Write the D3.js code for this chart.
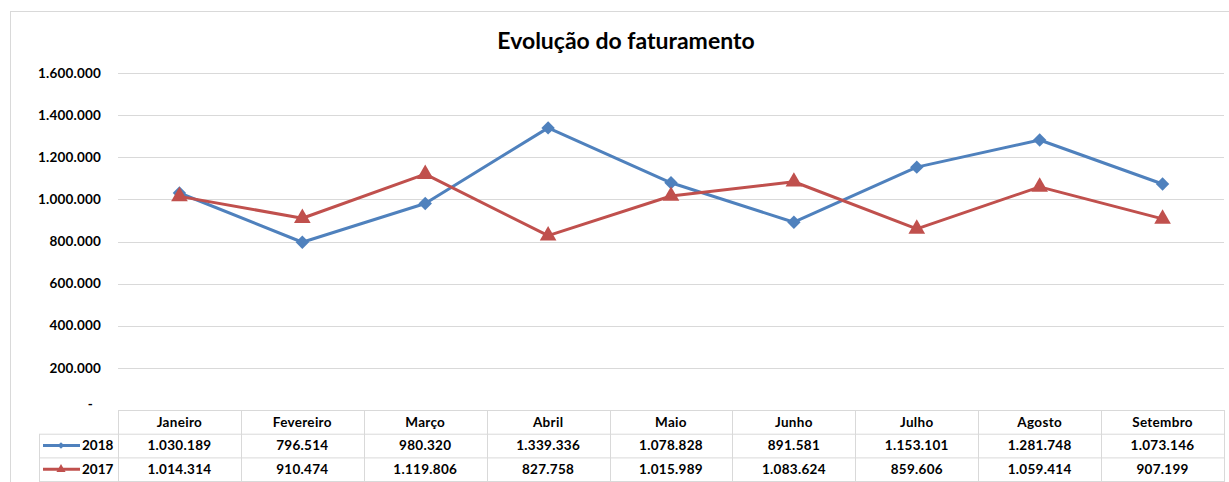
<!DOCTYPE html>
<html>
<head>
<meta charset="utf-8">
<script src="https://cdn.jsdelivr.net/npm/d3@7"></script>
<style>
  body { margin: 0; background: #fff; }
  svg { display: block; font-family: Lato, "Open Sans", sans-serif; }
</style>
</head>
<body>
<svg width="1229" height="482"></svg>
<script>
const months = ["Janeiro", "Fevereiro", "Março", "Abril", "Maio", "Junho", "Julho", "Agosto", "Setembro"];
const values2018 = [1030189, 796514, 980320, 1339336, 1078828, 891581, 1153101, 1281748, 1073146];
const values2017 = [1014314, 910474, 1119806, 827758, 1015989, 1083624, 859606, 1059414, 907199];
const yTicks = [0, 200000, 400000, 600000, 800000, 1000000, 1200000, 1400000, 1600000];

const series = [
  { name: "2018", values: values2018, color: "#4f81bd", marker: "diamond" },
  { name: "2017", values: values2017, color: "#c0504d", marker: "triangle" }
];

const fmt = v => d3.format(",")(v).replace(/,/g, ".");

const svg = d3.select("svg");
const plotLeft = 118, plotRight = 1224, plotTop = 73, plotBottom = 410;
const rowH = 23.7;

// diamond = square turned 45deg, triangle sits a bit low like excel's
const markerPath = (type, size) => type === "diamond"
  ? d3.symbol().type(d3.symbolSquare).size(size)()
  : d3.symbol().type(d3.symbolTriangle).size(size)();
const markerRot = type => type === "diamond" ? " rotate(45)" : "";

// chart frame
svg.append("rect")
  .attr("x", 10.5).attr("y", 11.5)
  .attr("width", 1240).attr("height", 500)
  .attr("fill", "none")
  .attr("stroke", "#d9d9d9");

svg.append("text")
  .attr("x", 626).attr("y", 49)
  .attr("text-anchor", "middle")
  .style("font-size", "23px")
  .style("font-weight", "700")
  .text("Evolução do faturamento");

const x = d3.scaleBand().domain(months).range([plotLeft, plotRight]);
const y = d3.scaleLinear().domain([0, 1600000]).range([plotBottom, plotTop]);

// gridlines
svg.append("g")
  .selectAll("line")
  .data(yTicks.filter(d => d > 0))
  .join("line")
  .attr("x1", plotLeft).attr("x2", plotRight)
  .attr("y1", d => Math.round(y(d)) + 0.5)
  .attr("y2", d => Math.round(y(d)) + 0.5)
  .attr("stroke", "#d9d9d9");

// y labels
svg.append("g")
  .selectAll("text")
  .data(yTicks)
  .join("text")
  .attr("x", d => d === 0 ? 93 : 101)
  .attr("y", d => y(d))
  .attr("dy", d => d === 0 ? "-0.1em" : "0.35em")
  .attr("text-anchor", "end")
  .style("font-size", "13.5px")
  .style("font-weight", "700")
  .style("letter-spacing", "0.2px")
  .text(d => d === 0 ? "-" : fmt(d));

// lines and markers
const line = d3.line()
  .x((d, i) => x(months[i]) + x.bandwidth() / 2)
  .y(d => y(d));

series.forEach(s => {
  svg.append("path")
    .datum(s.values)
    .attr("d", line)
    .attr("fill", "none")
    .attr("stroke", s.color)
    .attr("stroke-width", 3)
    .attr("stroke-linejoin", "round");

  svg.append("g")
    .selectAll("path")
    .data(s.values)
    .join("path")
    .attr("transform", (d, i) => `translate(${x(months[i]) + x.bandwidth() / 2},${y(d)})` + markerRot(s.marker))
    .attr("d", markerPath(s.marker, s.marker === "diamond" ? 90 : 120))
    .attr("fill", s.color);
});

// data table
const table = svg.append("g");
const tableStroke = "#d9d9d9";

table.append("rect")
  .attr("x", plotLeft + 0.5).attr("y", plotBottom + 0.5)
  .attr("width", plotRight - plotLeft).attr("height", rowH * 3)
  .attr("fill", "none").attr("stroke", tableStroke);
table.append("rect")
  .attr("x", 39.5).attr("y", plotBottom + rowH + 0.5)
  .attr("width", plotRight - 39).attr("height", rowH * 2)
  .attr("fill", "none").attr("stroke", tableStroke);
table.append("line")
  .attr("x1", 39).attr("x2", plotRight)
  .attr("y1", plotBottom + rowH * 2 + 0.5).attr("y2", plotBottom + rowH * 2 + 0.5)
  .attr("stroke", tableStroke);
table.selectAll(".vline")
  .data(months.slice(1))
  .join("line")
  .attr("x1", d => Math.round(x(d)) + 0.5).attr("x2", d => Math.round(x(d)) + 0.5)
  .attr("y1", plotBottom).attr("y2", plotBottom + rowH * 3)
  .attr("stroke", tableStroke);

table.selectAll(".hdr")
  .data(months)
  .join("text")
  .attr("x", d => x(d) + x.bandwidth() / 2)
  .attr("y", plotBottom + rowH / 2)
  .attr("dy", "0.35em")
  .attr("text-anchor", "middle")
  .style("font-size", "13.5px")
  .style("font-weight", "700")
  .style("letter-spacing", "0.3px")
  .text(d => d);

series.forEach((s, r) => {
  const cy = plotBottom + rowH * (r + 1.5);
  table.append("line")
    .attr("x1", 43).attr("x2", 80)
    .attr("y1", cy).attr("y2", cy)
    .attr("stroke", s.color).attr("stroke-width", 3);
  table.append("path")
    .attr("transform", `translate(61,${cy})` + markerRot(s.marker))
    .attr("d", markerPath(s.marker, s.marker === "diamond" ? 22 : 36))
    .attr("fill", s.color);
  table.append("text")
    .attr("x", 82).attr("y", cy)
    .attr("dy", "0.35em")
    .style("font-size", "13.5px")
    .style("font-weight", "700")
    .text(s.name);
  table.selectAll(".v" + r)
    .data(s.values)
    .join("text")
    .attr("x", (d, i) => x(months[i]) + x.bandwidth() / 2)
    .attr("y", cy)
    .attr("dy", "0.35em")
    .attr("text-anchor", "middle")
    .style("font-size", "13.5px")
    .style("font-weight", "700")
    .style("letter-spacing", "0.3px")
    .text(d => fmt(d));
});
</script>
</body>
</html>
